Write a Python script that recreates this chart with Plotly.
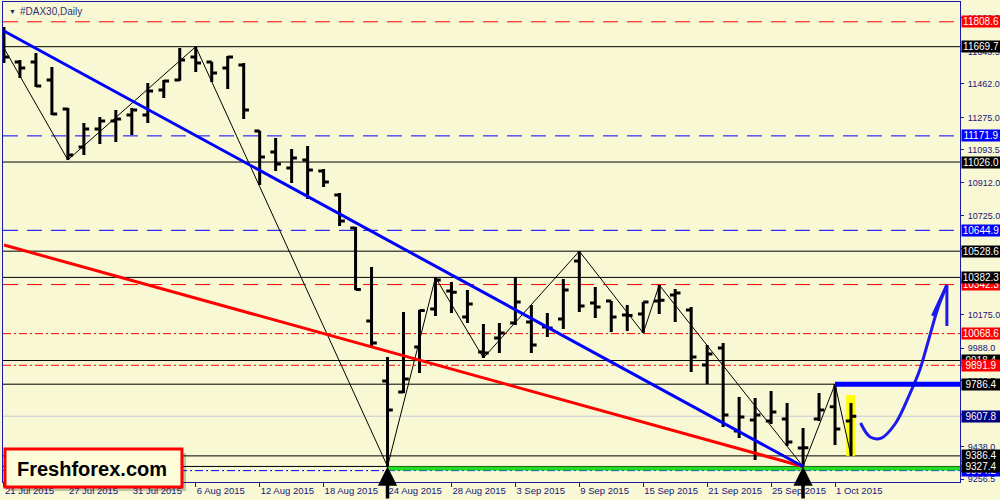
import plotly.graph_objects as go
import datetime as _dt

# ---------------- data ----------------
dates = ["2015-07-21", "2015-07-22", "2015-07-23", "2015-07-24", "2015-07-27", "2015-07-28",
         "2015-07-29", "2015-07-30", "2015-07-31", "2015-08-03", "2015-08-04", "2015-08-05",
         "2015-08-06", "2015-08-07", "2015-08-10", "2015-08-11", "2015-08-12", "2015-08-13",
         "2015-08-14", "2015-08-17", "2015-08-18", "2015-08-19", "2015-08-20", "2015-08-21",
         "2015-08-24", "2015-08-25", "2015-08-26", "2015-08-27", "2015-08-28", "2015-08-31",
         "2015-09-01", "2015-09-02", "2015-09-03", "2015-09-04", "2015-09-07", "2015-09-08",
         "2015-09-09", "2015-09-10", "2015-09-11", "2015-09-14", "2015-09-15", "2015-09-16",
         "2015-09-17", "2015-09-18", "2015-09-21", "2015-09-22", "2015-09-23", "2015-09-24",
         "2015-09-25", "2015-09-28", "2015-09-29", "2015-09-30", "2015-10-01", "2015-10-02"]

opens = [11705, 11584, 11584, 11484, 11322, 11110, 11210, 11255, 11289, 11289, 11428, 11484,
         11612, 11584, 11551, 11568, 11199, 11082, 10993, 11037, 10976, 10842, 10658, 10139,
         9804, 9743, 9994, 10206, 10306, 10161, 9966, 10044, 10128, 10134, 10106, 10150,
         10474, 10240, 10250, 10172, 10178, 10251, 10284, 10200, 9894, 9988, 9525, 9587,
         9581, 9592, 9430, 9592, 9660, 9581]
highs = [11780, 11596, 11635, 11556, 11328, 11244, 11277, 11316, 11328, 11467, 11484, 11662,
         11670, 11586, 11618, 11579, 11200, 11160, 11099, 11116, 10987, 10853, 10664, 10440,
         9938, 10189, 10200, 10382, 10357, 10312, 10122, 10128, 10385, 10228, 10184, 10373,
         10529, 10329, 10251, 10228, 10245, 10340, 10318, 10217, 10005, 10016, 9715, 9710,
         9748, 9682, 9542, 9737, 9786, 9682]
lows = [11579, 11495, 11445, 11289, 11038, 11065, 11127, 11138, 11177, 11244, 11383, 11480,
        11528, 11473, 11434, 11266, 10898, 10976, 10909, 10820, 10887, 10669, 10312, 9988,
        9327.4, 9737, 9849, 10167, 10184, 10128, 9933, 9960, 10117, 9960, 10050, 10094,
        10189, 10156, 10078, 10083, 10072, 10178, 10134, 9855, 9788, 9548, 9486, 9364,
        9564, 9442, 9327.4, 9581, 9447, 9386.4]
closes = [11612, 11551, 11450, 11294, 11065, 11210, 11255, 11266, 11316, 11422, 11478, 11595,
          11579, 11523, 11612, 11316, 11054, 11015, 11049, 10982, 10915, 10697, 10315, 10016,
          9642, 9815, 10198, 10368, 10300, 10234, 9960, 10072, 10245, 10005, 10100, 10312,
          10223, 10217, 10161, 10170, 10245, 10255, 10295, 9938, 9955, 9615, 9603, 9615,
          9631, 9464, 9432, 9642, 9536, 9607.8]

# zigzag pivots (bar index, price)
zz_idx = [0, 4, 12, 24, 27, 30, 36, 40, 41, 50, 52, 53]
zz_val = [11662, 11038, 11669.7, 9327.4, 10382, 9933, 10528.6, 10072, 10340, 9327.4, 9786.4, 9386.4]

# trend lines (bar index, price)
blue_tl_idx = [0, 50]
blue_tl_val = [11757, 9327.4]
red_tl_idx = [0, 50]
red_tl_val = [10563, 9327.4]

# horizontal levels: value, line colour, dash, label background
levels = [11808.6, 11669.7, 11171.9, 11026.0, 10644.9, 10528.6, 10342.3, 10382.3,
          10068.6, 9918.4, 9891.9, 9786.4, 9607.8, 9386.4, 9304.2, 9327.4]
level_line = ["#ff0000", "#000000", "#0000ff", "#000000", "#0000ff", "#000000", "#ff0000", "#000000",
              "#ff0000", "#000000", "#ff0000", "#000000", "#c8c8d8", "#000000", "#0000ff", "#000000"]
level_dash = ["15px,9px", "solid", "15px,9px", "solid", "15px,9px", "solid", "15px,9px", "solid",
              "8px,3px,2px,3px", "solid", "8px,3px,2px,3px", "solid", "solid", "solid",
              "8px,3px,2px,3px", "solid"]
level_box = ["#ff0000", "#000000", "#0000ff", "#000000", "#0000ff", "#000000", "#ff0000", "#000000",
             "#ff0000", "#000000", "#ff0000", "#000000", "#000080", "#000000", "#0000ff", "#000000"]

green_start_idx = 24
green_val = 9316
resist_start_idx = 52
resist_val = 9786.4

# highlighted last bar
hl_x = [52.7, 53.25]
hl_y = [9386.4, 9726]

# hand-drawn forecast arrow
fc_x = [53.6, 54.2, 54.9, 55.8, 56.7, 57.3, 57.8, 58.4, 59.0]
fc_y = [9570, 9492, 9486, 9570, 9737, 9866, 10016, 10201, 10340]
fc_head_x = [58.1, 59.0, 59.0]
fc_head_y = [10167, 10340, 10111]

# up arrows under the two lows
up_arrow_idx = [24, 50]
up_arrow_val = [9327.4, 9327.4]

y_ticks = [9256.5, 9438.0, 9619.5, 9806.5, 9988.0, 10175.0, 10356.5, 10543.5, 10725.0,
           10912.0, 11093.5, 11275.0, 11462.0, 11643.5, 11830.5]
x_tick_idx = list(range(0, 53, 4))

# ---------------- styling ----------------
BG = "#f8f8d4"
NAVY = "#16167a"
FRAME = "#1a1aa8"
FONT = "Liberation Sans"
X_RANGE = [-0.06, 59.82]
Y_RANGE = [9240.7, 11919.0]


def fmt_date(s):
    d = _dt.date.fromisoformat(s)
    return f"{d.day} {d.strftime('%b')} {d.year}"


x_idx = list(range(len(dates)))

fig = go.Figure()

# green support band
fig.add_shape(type="line", xref="x", yref="y", x0=green_start_idx, x1=X_RANGE[1],
              y0=green_val, y1=green_val, line=dict(color="#22dd22", width=4), layer="below")

# horizontal levels
for v, c, d in zip(levels, level_line, level_dash):
    fig.add_shape(type="line", xref="paper", yref="y", x0=0, x1=1, y0=v, y1=v,
                  line=dict(color=c, width=1, dash=d), layer="below")

# highlight box
fig.add_shape(type="rect", xref="x", yref="y", x0=hl_x[0], x1=hl_x[1], y0=hl_y[0], y1=hl_y[1],
              fillcolor="#ffff00", line=dict(width=0), layer="below")

# bars
fig.add_trace(go.Ohlc(x=x_idx, open=opens, high=highs, low=lows, close=closes,
                      increasing=dict(line=dict(color="black", width=3)),
                      decreasing=dict(line=dict(color="black", width=3)),
                      tickwidth=0.33, hoverinfo="skip", showlegend=False))

# zigzag
fig.add_trace(go.Scatter(x=zz_idx, y=zz_val, mode="lines", line=dict(color="black", width=1),
                         hoverinfo="skip", showlegend=False))
# trend lines
fig.add_trace(go.Scatter(x=red_tl_idx, y=red_tl_val, mode="lines", line=dict(color="#ff0000", width=3),
                         hoverinfo="skip", showlegend=False))
fig.add_trace(go.Scatter(x=blue_tl_idx, y=blue_tl_val, mode="lines", line=dict(color="#0000ff", width=3),
                         hoverinfo="skip", showlegend=False))

# resistance thick line
fig.add_shape(type="line", xref="x", yref="y", x0=resist_start_idx, x1=X_RANGE[1],
              y0=resist_val, y1=resist_val, line=dict(color="#0000ff", width=5))

# forecast arrow
fig.add_trace(go.Scatter(x=fc_x, y=fc_y, mode="lines", line=dict(color="#1a1aee", width=3, shape="spline"),
                         hoverinfo="skip", showlegend=False))
fig.add_trace(go.Scatter(x=fc_head_x, y=fc_head_y, mode="lines", line=dict(color="#1a1aee", width=3),
                         hoverinfo="skip", showlegend=False))

annotations = []
# up arrows
for xi, yv in zip(up_arrow_idx, up_arrow_val):
    annotations.append(dict(x=xi, y=yv, xref="x", yref="y", text="", showarrow=True,
                            ax=0, ay=34, arrowhead=2, arrowwidth=3.5, arrowsize=1.1,
                            arrowcolor="black", standoff=0))

# price labels on the right
for v, bg in zip(levels, level_box):
    annotations.append(dict(x=1, xref="paper", y=v, yref="y", xanchor="left", yanchor="middle",
                            xshift=1, text=f"{v:.1f}", showarrow=False, bgcolor=bg,
                            font=dict(family=FONT, size=10, color="white"),
                            width=38, height=11, borderpad=0, align="center"))

# title
annotations.append(dict(x=0.004, y=0.992, xref="paper", yref="paper", xanchor="left", yanchor="top",
                        text="▼", showarrow=False, font=dict(family=FONT, size=7, color="#202070")))
annotations.append(dict(x=0.0155, y=0.996, xref="paper", yref="paper", xanchor="left", yanchor="top",
                        text="#DAX30,Daily", showarrow=False, font=dict(family=FONT, size=10, color="#303078")))

# logo
fig.add_shape(type="rect", xref="paper", yref="paper", x0=0.0063, x1=0.1912, y0=-0.0188, y1=0.0604,
              fillcolor="rgba(0,0,0,0.22)", line=dict(width=0), layer="above")
fig.add_shape(type="rect", xref="paper", yref="paper", x0=0.0021, x1=0.1870, y0=-0.0104, y1=0.0688,
              fillcolor="#fcfcd8", line=dict(color="#ff0000", width=3), layer="above")
annotations.append(dict(x=0.093, y=0.027, xref="paper", yref="paper", xanchor="center", yanchor="middle",
                        text="<b>Freshforex.com</b>", showarrow=False,
                        font=dict(family=FONT, size=20, color="black")))

fig.update_layout(
    width=1000, height=500,
    margin=dict(l=3, r=40, t=2, b=18, autoexpand=False),
    paper_bgcolor=BG, plot_bgcolor=BG,
    showlegend=False,
    annotations=annotations,
    xaxis=dict(range=X_RANGE, rangeslider=dict(visible=False), showgrid=False, zeroline=False,
               automargin=False,
               tickvals=x_tick_idx, ticktext=[fmt_date(dates[i]) for i in x_tick_idx],
               ticks="outside", ticklen=4, tickcolor=FRAME, ticklabelposition="outside right",
               tickfont=dict(family=FONT, size=9.5, color=NAVY),
               showline=True, mirror=True, linecolor=FRAME, linewidth=1, fixedrange=True),
    yaxis=dict(range=Y_RANGE, side="right", showgrid=False, zeroline=False,
               automargin=False,
               tickvals=y_ticks, ticktext=[f"{t:.1f}" for t in y_ticks],
               ticks="outside", ticklen=3, tickcolor=FRAME, ticklabelstandoff=2,
               tickfont=dict(family=FONT, size=9, color=NAVY),
               showline=True, mirror=True, linecolor=FRAME, linewidth=1, fixedrange=True),
)

fig.write_html("out.html", config={"displayModeBar": False})

# remove the browser's default page margin so the 1000x500 figure fills the window
with open("out.html", "r", encoding="utf-8") as fh:
    page = fh.read()
page = page.replace("<head>", "<head><style>html,body{margin:0;padding:0;overflow:hidden;background:%s}</style>" % BG, 1)
with open("out.html", "w", encoding="utf-8") as fh:
    fh.write(page)
